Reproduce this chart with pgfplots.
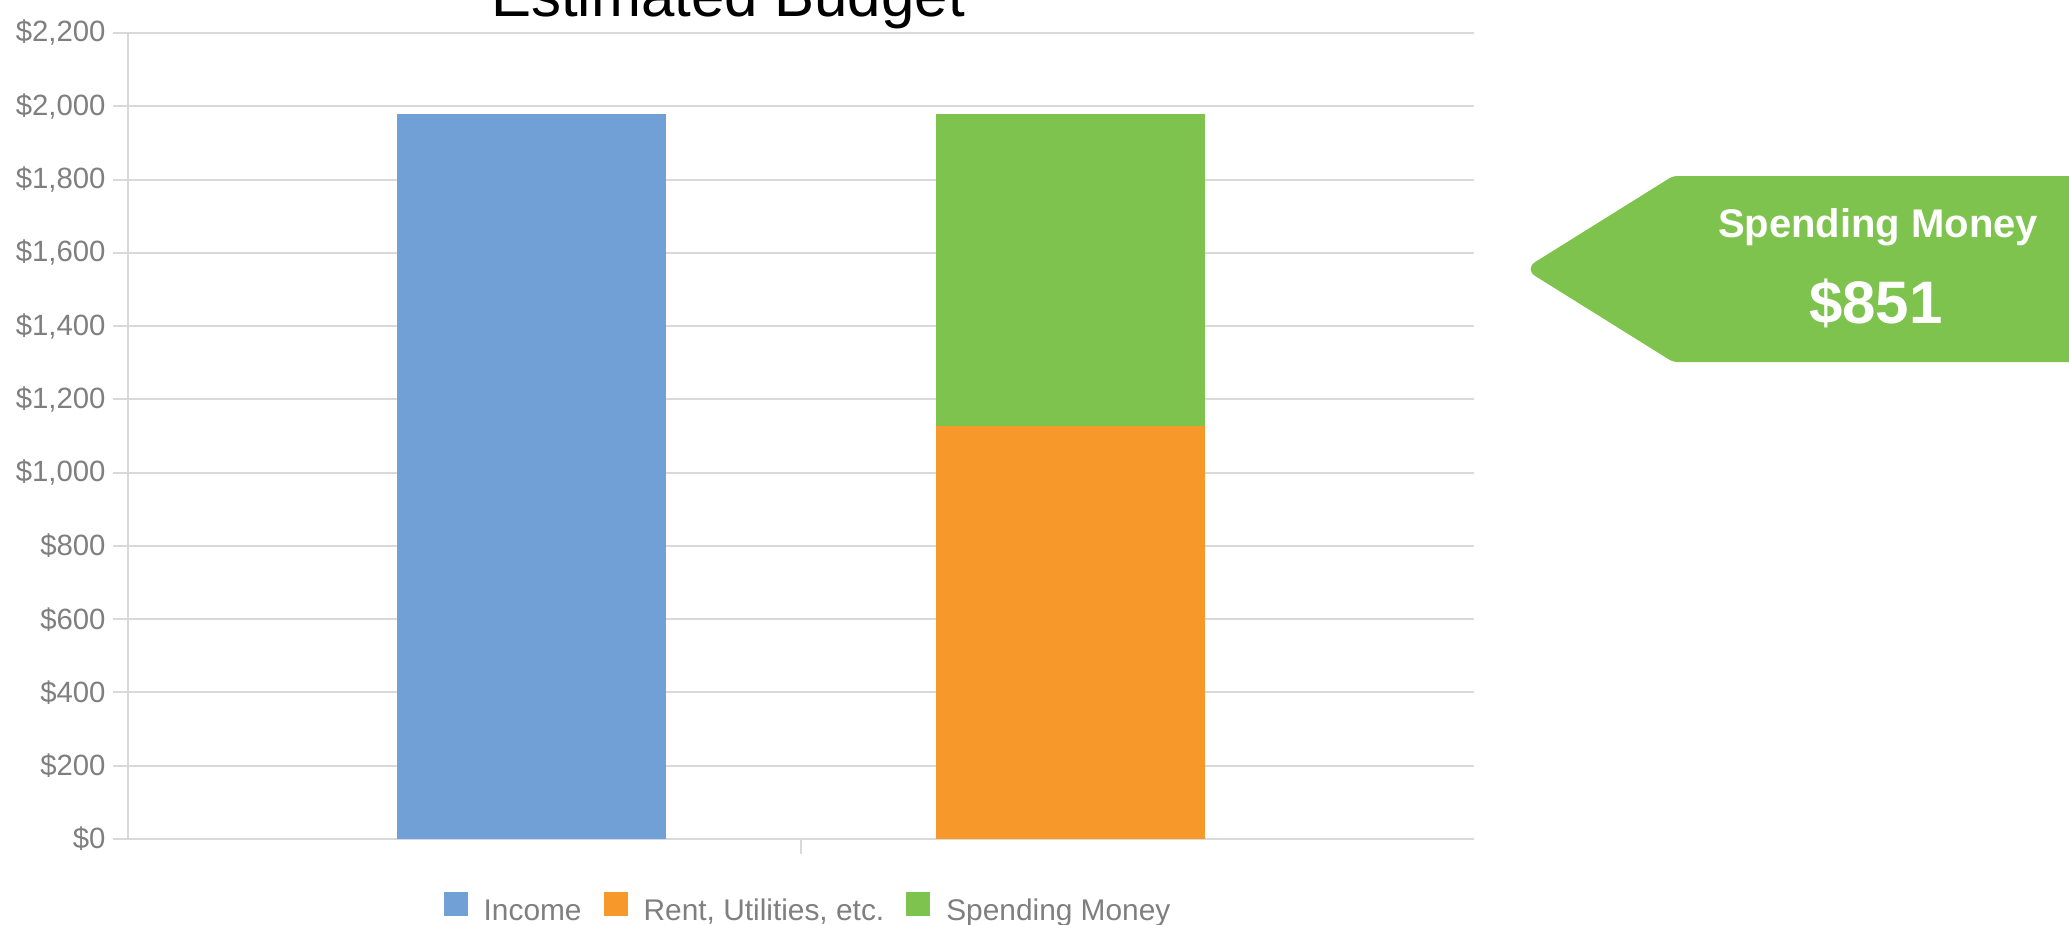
\documentclass[border=0pt]{standalone}
\usepackage{fontspec}
\setmainfont{Liberation Sans}
\usepackage{pgfplots}
\pgfplotsset{compat=1.18}
\definecolor{incblue}{HTML}{70A0D6}
\definecolor{rentorange}{HTML}{F7982A}
\definecolor{spendgreen}{HTML}{7DC34D}
\definecolor{gridgray}{HTML}{D9D9D9}
\definecolor{labgray}{HTML}{7F7F7F}
\begin{document}
\begin{tikzpicture}[x=0.375pt,y=0.375pt]
\useasboundingbox (0,0) rectangle (2069,924);
\clip (0,0) rectangle (2069,924);
\begin{axis}[
  at={(48pt,31.875pt)}, anchor=south west,
  scale only axis,
  width=504.75pt, height=302.25pt,
  xmin=0, xmax=2, ymin=0, ymax=2200,
  ybar stacked, bar width=0.4,
  axis x line*=bottom, axis y line*=left,
  axis line style={-, draw=gridgray, line width=0.75pt},
  xtick={1}, xticklabels={},
  ytick={0,200,...,2200},
  ymajorgrids, grid style={draw=gridgray, line width=0.75pt},
  tick align=outside,
  major tick length=5.5pt,
  every tick/.style={draw=gridgray, line width=0.75pt},
  /pgf/number format/assume math mode=true,
  /pgf/number format/1000 sep={,},
  /pgf/number format/fixed,
  yticklabel={\$\pgfmathprintnumber{\tick}},
  yticklabel style={font=\fontsize{11}{13}\selectfont, text=labgray, xshift=0.6pt},
  legend columns=-1,
  legend style={at={(axis description cs:0.5045,-0.086)}, anchor=center,
    draw=none, fill=none,
    nodes={inner sep=0pt, text=labgray, font=\fontsize{11.2}{13}\selectfont},
    /tikz/every odd column/.append style={column sep=6pt},
    /tikz/every even column/.append style={column sep=8.25pt}},
  legend image code/.code={\fill[#1] (0pt,-1.5pt) rectangle (9pt,7.5pt);},
]
\addplot+[draw=none, fill=incblue] coordinates {(0.6,1978) (1.4,0)};
\addlegendentry{Income}
\addplot+[draw=none, fill=rentorange] coordinates {(0.6,0) (1.4,1127)};
\addlegendentry{Rent, Utilities, etc.}
\addplot+[draw=none, fill=spendgreen] coordinates {(0.6,0) (1.4,851)};
\addlegendentry{Spending Money}
\end{axis}
\node[anchor=base, inner sep=0pt, font=\fontsize{22.5}{26}\selectfont] at (728,907) {Estimated Budget};
\fill[spendgreen] (2090,748) [rounded corners=1.5pt] -- (1673,748) [rounded corners=5pt] -- (1524,655) [rounded corners=1.5pt] -- (1673,562) [sharp corners] -- (2090,562) -- cycle;
\node[anchor=base, inner sep=0pt, text=white, font=\bfseries\fontsize{15}{18}\selectfont] at (1878,687) {Spending Money};
\node[anchor=base, inner sep=0pt, text=white, font=\bfseries\fontsize{22.5}{26}\selectfont] at (1876,601) {\$851};
\end{tikzpicture}
\end{document}
